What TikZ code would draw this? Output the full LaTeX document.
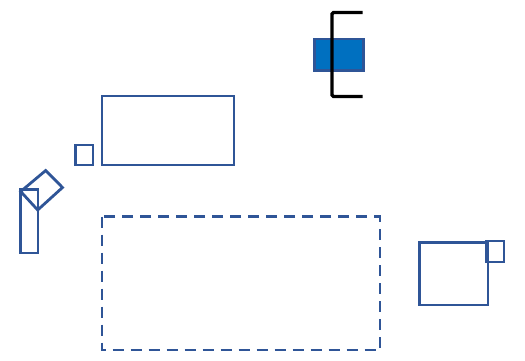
\documentclass[tikz,border=0pt]{standalone}
\usepackage{tikz}
\definecolor{boxblue}{RGB}{47,85,151}
\definecolor{fillblue}{RGB}{0,112,192}
\tikzset{
  box/.style={draw=boxblue, line width=2.8pt},
  dashbox/.style={box, dash pattern=on 11pt off 7pt},
  bracket/.style={draw=black, line width=3.4pt, rounded corners=1.5pt}
}
\begin{document}
\begin{tikzpicture}[x=1pt, y=-1pt]
    \useasboundingbox (0,0) rectangle (525,361);

    % Bloc rempli et crochet
    \draw[box, fill=fillblue] (314.5,39) rectangle (363.5,70.5);
    \draw[bracket] (362.5,12.5) -- (332,12.5) -- (332,96.5) -- (362.5,96.5);

    % Rectangle du haut et petit carre
    \draw[box] (102,96) rectangle (234,165);
    \draw[box] (75.5,145) rectangle (93,165);

    % Losange et rectangle vertical
    \draw[box] (45.7,170.5) -- (62.5,187.5) -- (37.7,210) -- (20.7,191.5) -- cycle;
    \draw[box] (20.5,189.5) rectangle (38,253);

    % Rectangle en pointilles
    \draw[dashbox] (102,216.5) rectangle (380,350);

    % Rectangle de droite et petit carre
    \draw[box] (419.5,242.5) rectangle (488,305);
    \draw[box] (486.5,241) rectangle (504,262);
\end{tikzpicture}
\end{document}
